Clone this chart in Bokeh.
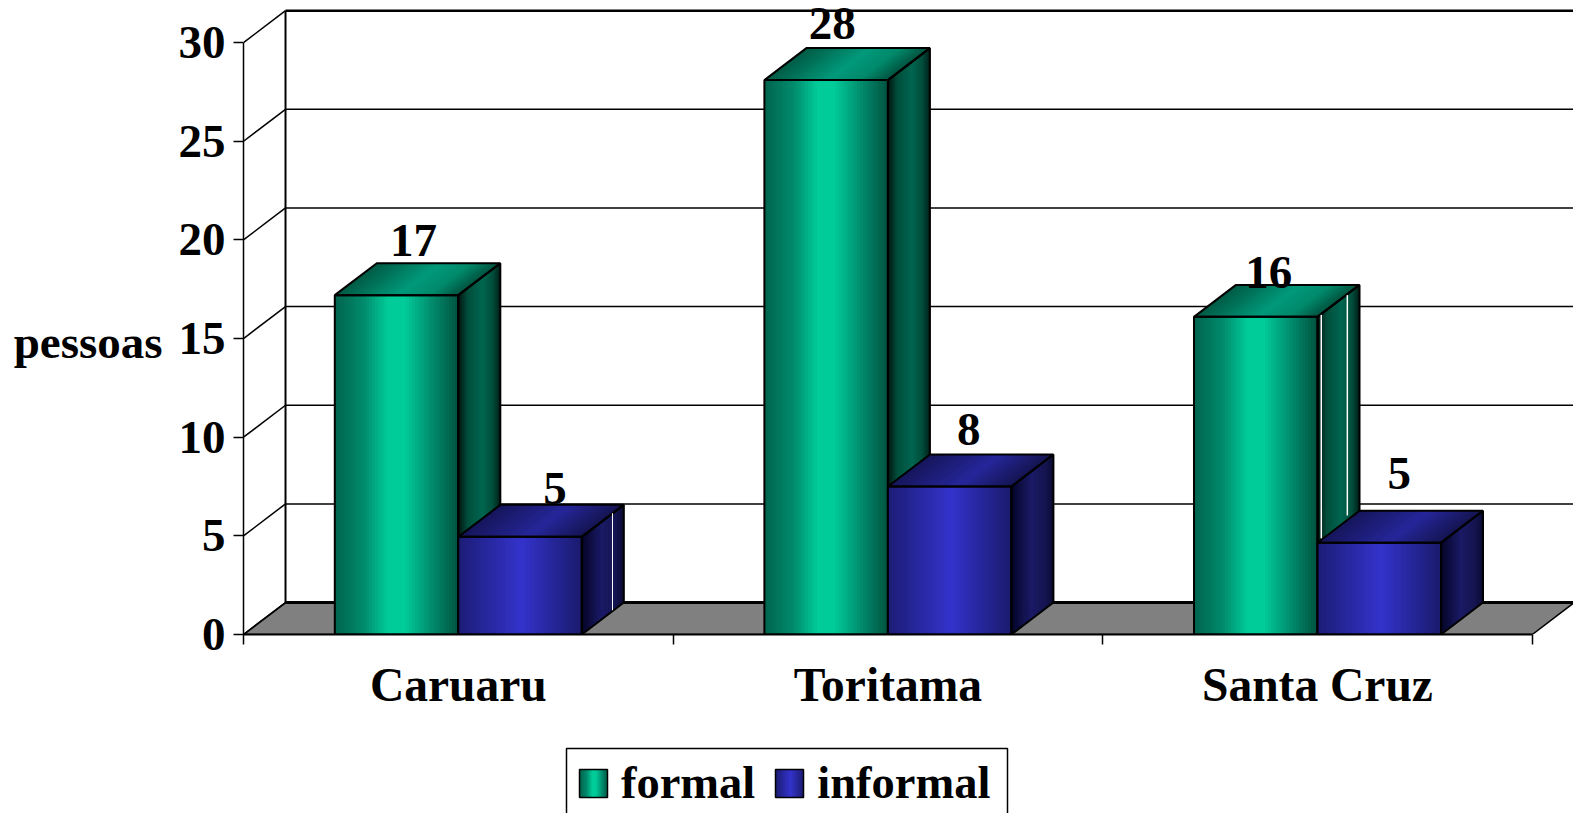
from bokeh.embed import file_html
from bokeh.resources import INLINE
from bokeh.plotting import figure
from bokeh.layouts import column
from bokeh.models import LinearAxis, FixedTicker, Range1d, Legend, LegendItem
from bokeh.core.properties import value

# ---- data
categories = ["Caruaru", "Toritama", "Santa Cruz"]
formal = [17.2, 28.1, 16.1]
informal = [4.95, 7.5, 4.65]
formal_labels = ["17", "28", "16"]
informal_labels = ["5", "8", "5"]
y_ticks = [0, 5, 10, 15, 20, 25, 30]
y_title = "pessoas"
y_title_at = 14.8
series_names = ["formal", "informal"]

# ---- styling
FONT = value("Liberation Serif")
FS = "47px"
BAR_W = 0.2875
DX = 0.0978   # depth in x units
DY = 1.62     # depth in y units
PX_PER_CAT = 429.6
PX_PER_Y = 19.73
FRAME_H = 634
FRAME_L = 243
TOP_H = 745
LEG_H = 813 - TOP_H

formal_label_off = [(17, -55), (6, -57), (13, -44)]
informal_label_off = [(35, -48), (19, -57), (20, -69)]

GREEN = dict(front=[(0, "#00664f"), (.22, "#008a6c"), (.42, "#00cc99"), (.55, "#00cc99"), (.8, "#008468"), (1, "#00503c")],
             top=[(0, "#005c46"), (.5, "#00997a"), (.75, "#008a6c"), (1, "#00503c")],
             side=[(0, "#001a14"), (.2, "#004d3a"), (.55, "#006650"), (.8, "#004d3a"), (1, "#001a14")])
BLUE = dict(front=[(0, "#1d1d78"), (.5, "#3333cc"), (.75, "#26269a"), (1, "#1a1a6b")],
            top=[(0, "#16165c"), (.55, "#26269a"), (1, "#14144f")],
            side=[(0, "#05052a"), (.45, "#1a1a66"), (.8, "#14144f"), (1, "#0a0a30")])


def grad(stops, t):
    for (a, ca), (b, cb) in zip(stops, stops[1:]):
        if t <= b:
            f = (t - a) / (b - a)
            rgb = [int(ca[i:i + 2], 16) * (1 - f) + int(cb[i:i + 2], 16) * f for i in (1, 3, 5)]
            return "#%02x%02x%02x" % tuple(int(round(c)) for c in rgb)
    return stops[-1][1]


p = figure(width=1573, height=TOP_H, output_backend="svg", toolbar_location=None,
           x_range=Range1d(0, (1573 - FRAME_L) / PX_PER_CAT), y_range=Range1d(0, FRAME_H / PX_PER_Y),
           x_axis_location=None, y_axis_location=None,
           min_border_left=FRAME_L, min_border_right=0, min_border_top=0, min_border_bottom=TOP_H - FRAME_H)
p.outline_line_color = None
p.grid.visible = False
p.background_fill_color = "white"

# axes
ya = LinearAxis(ticker=FixedTicker(ticks=y_ticks), bounds=(0, 30))
ya.major_label_text_font = "Liberation Serif"
ya.major_label_text_font_style = "bold"
ya.major_label_text_font_size = FS
ya.major_label_text_color = "black"
ya.major_tick_out = 10
ya.major_tick_in = 0
ya.minor_tick_out = 0
ya.minor_tick_in = 0
ya.major_label_standoff = 8
ya.axis_line_width = 1.5
ya.major_tick_line_width = 1.5
p.add_layout(ya, "left")

ta = LinearAxis(ticker=FixedTicker(ticks=[y_title_at]), major_label_overrides={y_title_at: y_title})
ta.axis_line_color = None
ta.major_tick_line_color = None
ta.minor_tick_line_color = None
ta.major_tick_out = 0
ta.major_tick_in = 0
ta.minor_tick_out = 0
ta.minor_tick_in = 0
ta.major_label_standoff = 13
ta.major_label_text_font = "Liberation Serif"
ta.major_label_text_font_style = "bold"
ta.major_label_text_font_size = "47px"
ta.major_label_text_color = "black"
p.add_layout(ta, "left")

n = len(categories)
centers = [i + 0.5 for i in range(n)]
xa = LinearAxis(ticker=FixedTicker(ticks=centers, minor_ticks=list(range(n + 1))), bounds=(0, n),
                major_label_overrides={c: s for c, s in zip(centers, categories)})
xa.major_tick_out = 0
xa.major_tick_in = 0
xa.minor_tick_out = 10
xa.minor_tick_in = 0
xa.axis_line_width = 2
xa.minor_tick_line_width = 1.5
xa.minor_tick_line_color = "black"
xa.major_label_standoff = 14
xa.major_label_text_font = "Liberation Serif"
xa.major_label_text_font_style = "bold"
xa.major_label_text_font_size = "47.5px"
xa.major_label_text_color = "black"
p.add_layout(xa, "below")

# floor
p.patch([0, n, n + DX, DX], [0, 0, DY, DY], fill_color="#808080", line_color="black", line_width=1.5)
p.line([DX, n + DX], [DY, DY], line_color="black", line_width=3)

# walls
p.line([DX, DX], [DY, 30 + DY], line_color="black", line_width=2)
p.line([DX, n + DX], [30 + DY, 30 + DY], line_color="black", line_width=2.5)
for t in y_ticks[1:-1]:
    p.line([DX, n + DX], [t + DY, t + DY], line_color="black", line_width=1.5)
for t in y_ticks:
    p.line([0, DX], [t, t + DY], line_color="black", line_width=1.5)


def bar(l, v, pal):
    r = l + BAR_W
    N = 40
    xs, ys, cs = [], [], []
    for i in range(N):
        t = i / N
        x0 = l + t * BAR_W
        xs.append([x0, r, r + DX, x0 + DX])
        ys.append([v, v, v + DY, v + DY])
        cs.append(grad(pal["top"], t))
    p.patches(xs, ys, fill_color=cs, line_color=None)
    xs, ys, cs = [], [], []
    M = 24
    for i in range(M):
        t = i / M
        xs.append([r + t * DX, r + DX, r + DX, r + t * DX])
        ys.append([t * DY, DY, v + DY, v + t * DY])
        cs.append(grad(pal["side"], t))
    p.patches(xs, ys, fill_color=cs, line_color=None)
    xs, cs = [], []
    for i in range(N):
        t = i / N
        xs.append(l + t * BAR_W)
        cs.append(grad(pal["front"], t))
    p.quad(left=xs, right=[r] * N, bottom=[0] * N, top=[v] * N, fill_color=cs, line_color=None)
    p.patch([l, r, r + DX, l + DX], [v, v, v + DY, v + DY], fill_color=None, line_color="black", line_width=2)
    p.patch([r, r + DX, r + DX, r], [0, DY, v + DY, v], fill_color=None, line_color="black", line_width=2)
    p.patch([l, r, r, l], [0, 0, v, v], fill_color=None, line_color="black", line_width=2)


for i, c in enumerate(centers):
    bar(c - BAR_W, formal[i], GREEN)
    bar(c, informal[i], BLUE)

# thin white rendering seams seen on two side faces of the reference
seams = [(centers[0], 0.73, 1.23, 6.15, 1),
         (centers[2] - BAR_W, 0.09, 4.88, 16.2, 1.5),
         (centers[2] - BAR_W, 0.71, 6.03, 17.2, 1.5)]
for l, f, y0, y1, w in seams:
    xx = l + BAR_W + f * DX
    p.line([xx, xx], [y0, y1], line_color="white", line_width=w)

# value labels
p.text([c - BAR_W / 2 for c in centers], formal, text=formal_labels,
       x_offset=[o[0] for o in formal_label_off], y_offset=[o[1] for o in formal_label_off],
       text_font=FONT, text_font_style="bold", text_font_size=FS, text_color="black",
       text_align="center", text_baseline="alphabetic")
p.text([c + BAR_W / 2 for c in centers], informal, text=informal_labels,
       x_offset=[o[0] for o in informal_label_off], y_offset=[o[1] for o in informal_label_off],
       text_font=FONT, text_font_style="bold", text_font_size=FS, text_color="black",
       text_align="center", text_baseline="alphabetic")

# legend, in a strip of its own whose frame crops the box at the foot of the page
q = figure(width=1573, height=LEG_H, output_backend="svg", toolbar_location=None,
           x_range=Range1d(FRAME_L, 1573), y_range=Range1d(0, LEG_H),
           x_axis_location=None, y_axis_location=None,
           min_border_left=FRAME_L, min_border_right=0, min_border_top=0, min_border_bottom=0)
q.outline_line_color = None
q.grid.visible = False

q.quad(left=[566], right=[1007], bottom=[-10], top=[LEG_H - 3], fill_color=None,
       line_color="black", line_width=1.5)
swatch_left = [579, 775]
swatch_bottom = 16
swatch_size = 28
items = []
for nm, pal, sl in zip(series_names, (GREEN, BLUE), swatch_left):
    N = 14
    q.quad(left=[sl + swatch_size * i / N for i in range(N)], right=[sl + swatch_size] * N,
           bottom=[swatch_bottom] * N, top=[swatch_bottom + swatch_size] * N,
           fill_color=[grad(pal["front"], i / N) for i in range(N)], line_color=None)
    # the legend entry's own swatch is see-through, so that the gradient above shows in its place
    r = q.quad(left=[sl], right=[sl + swatch_size], bottom=[swatch_bottom], top=[swatch_bottom + swatch_size],
               fill_color=grad(pal["front"], .5), fill_alpha=0, line_alpha=0)
    q.quad(left=[sl], right=[sl + swatch_size], bottom=[swatch_bottom], top=[swatch_bottom + swatch_size],
           fill_color=None, line_color="black", line_width=1.5)
    items.append(LegendItem(label=value(nm), renderers=[r], index=0))
legend = Legend(items=items, orientation="horizontal", location=(579 - FRAME_L, 4), padding=13, margin=0, spacing=20,
                glyph_width=swatch_size, glyph_height=swatch_size, label_standoff=14,
                label_text_font="Liberation Serif", label_text_font_style="bold", label_text_font_size="46.5px",
                label_text_color="black", border_line_color=None, background_fill_alpha=0)
q.add_layout(legend)

open("out.html", "w").write(file_html(column(p, q, spacing=0), INLINE))
